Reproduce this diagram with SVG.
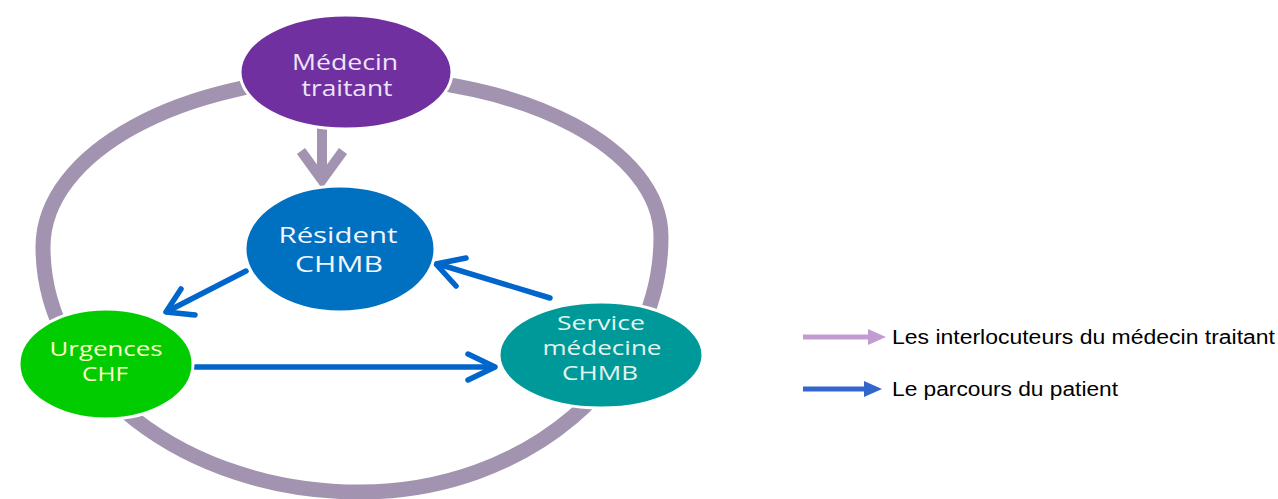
<svg xmlns="http://www.w3.org/2000/svg" width="1278" height="499" viewBox="0 0 1278 499">
<style>
.ring{fill:none;stroke:#A294B0;stroke-width:15}
.grey{fill:none;stroke:#A294B0;stroke-width:10;stroke-linejoin:miter}
.blue{fill:none;stroke:#0066CC;stroke-width:5.5;stroke-linecap:round;stroke-linejoin:round}
.node{stroke:#FFFFFF;stroke-width:3}
.nt{font-family:"Open Sans","Noto Sans",sans-serif;text-anchor:middle}
.lg{font-family:"Liberation Sans",Arial,sans-serif;font-size:20px;fill:#000000}
</style>
<rect width="1278" height="499" fill="#FFFFFF"/>
<g id="ring">
<path class="ring" d="M353,77 C527,77 661,150 661,237 C661,377 526,492 360,492 C185,492 43,382 43,247 C43,153 182,77 353,77 Z"/>
</g>
<g id="connectors">
<line class="grey" x1="322" y1="126" x2="322" y2="176"/>
<polyline class="grey" points="301,151 322,180 343,151"/>
<line class="blue" x1="246" y1="271" x2="168" y2="311"/>
<polyline class="blue" points="181,289 166,312 195,315"/>
<line class="blue" x1="195" y1="367" x2="494" y2="367"/>
<polyline class="blue" points="468,354 495,367 468,380"/>
<line class="blue" x1="550" y1="298" x2="438" y2="264"/>
<polyline class="blue" points="466,258 436,264 456,286"/>
</g>
<g id="medecin-traitant">
<ellipse class="node" cx="346" cy="72" rx="106" ry="57" fill="#7030A0"/>
<text class="nt" x="345" y="70" font-size="21" fill="#EDE4FA" textLength="106" lengthAdjust="spacingAndGlyphs">Médecin</text>
<text class="nt" x="347" y="96" font-size="21" fill="#EDE4FA" textLength="91" lengthAdjust="spacingAndGlyphs">traitant</text>
</g>
<g id="resident-chmb">
<ellipse class="node" cx="340" cy="249" rx="95" ry="63" fill="#0070C0"/>
<text class="nt" x="338" y="243" font-size="22" fill="#F2F6FF" textLength="119" lengthAdjust="spacingAndGlyphs">Résident</text>
<text class="nt" x="339" y="272" font-size="22" fill="#F2F6FF" textLength="88" lengthAdjust="spacingAndGlyphs">CHMB</text>
</g>
<g id="urgences-chf">
<ellipse class="node" cx="106" cy="364" rx="87" ry="55" fill="#00CC00"/>
<text class="nt" x="106" y="356" font-size="20" fill="#FFFFC8" textLength="113" lengthAdjust="spacingAndGlyphs">Urgences</text>
<text class="nt" x="105" y="381" font-size="20" fill="#FFFFC8" textLength="46" lengthAdjust="spacingAndGlyphs">CHF</text>
</g>
<g id="service-medecine-chmb">
<ellipse class="node" cx="601" cy="355" rx="102" ry="53" fill="#009999"/>
<text class="nt" x="601" y="330" font-size="20" fill="#E4F4EC" textLength="88" lengthAdjust="spacingAndGlyphs">Service</text>
<text class="nt" x="602" y="355" font-size="20" fill="#E4F4EC" textLength="119" lengthAdjust="spacingAndGlyphs">médecine</text>
<text class="nt" x="600" y="380" font-size="20" fill="#E4F4EC" textLength="76" lengthAdjust="spacingAndGlyphs">CHMB</text>
</g>
<g id="legend">
<line x1="803" y1="337" x2="870" y2="337" stroke="#C39BD3" stroke-width="5"/>
<polygon points="868,329 886,337 868,345" fill="#C39BD3"/>
<text class="lg" x="892" y="344" textLength="383" lengthAdjust="spacingAndGlyphs">Les interlocuteurs du médecin traitant</text>
<line x1="803" y1="389" x2="866" y2="389" stroke="#3366CC" stroke-width="5"/>
<polygon points="864,381 882,389 864,397" fill="#3366CC"/>
<text class="lg" x="892" y="396" textLength="226" lengthAdjust="spacingAndGlyphs">Le parcours du patient</text>
</g>
</svg>
